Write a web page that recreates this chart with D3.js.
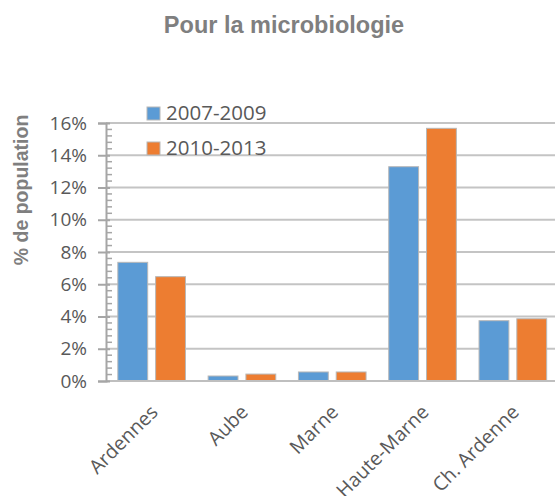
<!DOCTYPE html>
<html>
<head>
<meta charset="utf-8">
<title>Pour la microbiologie</title>
<script src="https://d3js.org/d3.v7.min.js"></script>
<style>
  body { margin: 0; background: #fff; }
  svg text { font-family: "Open Sans", sans-serif; fill: #595959; }
</style>
</head>
<body>
<svg id="chart" width="555" height="496"></svg>
<script>
// data
var categories = ["Ardennes", "Aube", "Marne", "Haute-Marne", "Ch. Ardenne"];
var seriesNames = ["2007-2009", "2010-2013"];
var values2007 = [7.36, 0.31, 0.56, 13.29, 3.74];
var values2010 = [6.47, 0.43, 0.56, 15.67, 3.86];
var yTicks = [0, 2, 4, 6, 8, 10, 12, 14, 16];
var colors = ["#5b9bd5", "#ed7d31"];

var svg = d3.select("#chart");

var x0 = d3.scaleBand().domain(categories).range([106.5, 558]);
var x1 = d3.scaleBand().domain(seriesNames).range([0, x0.bandwidth()])
    .paddingInner(0.21).paddingOuter(0.3);
var y = d3.scaleLinear().domain([0, 16]).range([381, 123]);

// title
svg.append("text")
    .attr("x", 284).attr("y", 33)
    .attr("text-anchor", "middle")
    .style("font-family", "'Liberation Sans', Arial, sans-serif")
    .style("font-weight", "bold")
    .style("font-size", "23.5px")
    .style("fill", "#7f7f7f")
    .text("Pour la microbiologie");

// gridlines
svg.append("g")
    .selectAll("line")
    .data(yTicks.filter(function(d) { return d > 0; }))
    .join("line")
    .attr("x1", 106).attr("x2", 555)
    .attr("y1", function(d) { return y(d); })
    .attr("y2", function(d) { return y(d); })
    .attr("stroke", "#c4c4c4")
    .attr("stroke-width", 2);

// bars
var rows = categories.map(function(c, i) {
    return { cat: c, vals: [values2007[i], values2010[i]] };
});
var groups = svg.append("g").selectAll("g")
    .data(rows)
    .join("g")
    .attr("transform", function(d) { return "translate(" + x0(d.cat) + ",0)"; });

groups.selectAll("rect")
    .data(function(d) { return d.vals.map(function(v, j) { return { s: seriesNames[j], v: v, j: j }; }); })
    .join("rect")
    .attr("x", function(d) { return x1(d.s); })
    .attr("width", x1.bandwidth())
    .attr("y", function(d) { return y(d.v); })
    .attr("height", function(d) { return y(0) - y(d.v); })
    .attr("fill", function(d) { return colors[d.j]; })
    .attr("stroke", "#b8b8b8")
    .attr("stroke-width", 1);

// x axis line
svg.append("line")
    .attr("x1", 106).attr("x2", 555)
    .attr("y1", y(0)).attr("y2", y(0))
    .attr("stroke", "#bfbfbf").attr("stroke-width", 2);

// y axis, major ticks crossing the axis
var yAxis = d3.axisLeft(y)
    .tickValues(yTicks)
    .tickSize(8)
    .tickPadding(11)
    .tickFormat(function(d) { return d + "%"; });
var gy = svg.append("g").attr("transform", "translate(106,0)").call(yAxis);
gy.select(".domain").attr("stroke", "#a6a6a6").attr("stroke-width", 2);
gy.selectAll(".tick line").attr("x2", 4).attr("x1", -8)
    .attr("stroke", "#a6a6a6").attr("stroke-width", 2);
gy.selectAll(".tick text")
    .style("font-family", "'Open Sans', sans-serif")
    .style("font-size", "19px")
    .style("fill", "#595959");

// minor ticks to the right
var minor = d3.range(0, 16, 0.4).filter(function(d) { return Math.abs(d / 2 - Math.round(d / 2)) > 0.01; });
svg.append("g").selectAll("line")
    .data(minor)
    .join("line")
    .attr("x1", 106).attr("x2", 112)
    .attr("y1", function(d) { return y(d); })
    .attr("y2", function(d) { return y(d); })
    .attr("stroke", "#a6a6a6")
    .attr("stroke-width", 1.5);

// y axis title
svg.append("text")
    .attr("transform", "translate(28,190) rotate(-90)")
    .attr("text-anchor", "middle")
    .style("font-family", "'Liberation Sans', Arial, sans-serif")
    .style("font-weight", "bold")
    .style("font-size", "19.5px")
    .style("fill", "#7f7f7f")
    .text("% de population");

// x labels rotated
svg.append("g").selectAll("text")
    .data(categories)
    .join("text")
    .attr("transform", function(d) {
        return "translate(" + (x0(d) + x0.bandwidth() / 2 - 3) + ",403) rotate(-45)";
    })
    .attr("text-anchor", "end")
    .attr("dy", "0.75em")
    .style("font-size", "19.5px")
    .text(function(d) { return d; });

// legend
var legend = svg.append("g").selectAll("g")
    .data(seriesNames)
    .join("g")
    .attr("transform", function(d, i) { return "translate(147," + (107 + i * 35) + ")"; });
legend.append("rect")
    .attr("width", 13).attr("height", 13)
    .attr("fill", function(d, i) { return colors[i]; })
    .attr("stroke", "#b8b8b8");
legend.append("text")
    .attr("x", 19).attr("y", 13)
    .style("font-size", "20.5px")
    .text(function(d) { return d; });
</script>
</body>
</html>
